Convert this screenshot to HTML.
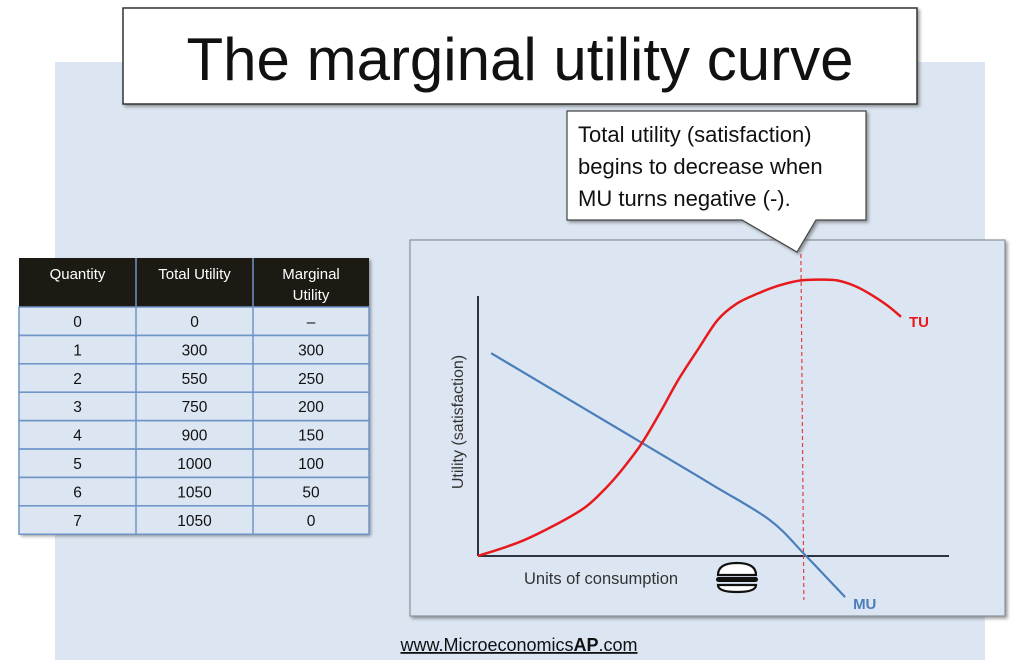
<!DOCTYPE html>
<html><head><meta charset="utf-8"><style>
html,body{margin:0;padding:0;background:#fff;}
svg{display:block;}
text{font-family:"Liberation Sans",sans-serif;}
</style></head><body>
<svg id="c" width="1024" height="667" viewBox="0 0 1024 667">
<defs>
<filter id="sh" x="-5%" y="-5%" width="112%" height="115%"><feDropShadow dx="2" dy="2" stdDeviation="1.5" flood-color="#555" flood-opacity="0.6"/></filter>
</defs>
<rect x="55" y="62" width="930" height="598" fill="#dce6f2"/>
<g>
<rect x="123" y="8" width="794" height="96" fill="#fff" stroke="#333" stroke-width="1.5" filter="url(#sh)"/>
<text x="520" y="80" text-anchor="middle" font-size="60" fill="#111">The marginal utility curve</text>
</g>
<g id="tbl"></g>
<g>
<rect x="410" y="240" width="595" height="376" fill="#dce6f2" stroke="#8a9199" stroke-width="1.2" filter="url(#sh)"/>
</g>
<g>
<path d="M567,111 H866 V220 H816 L797,252 L742,220 H567 Z" fill="#fff" stroke="#444" stroke-width="1.2" filter="url(#sh)"/>
<text x="578" y="142" font-size="22" fill="#111">Total utility (satisfaction)</text>
<text x="578" y="174" font-size="22" fill="#111">begins to decrease when</text>
<text x="578" y="206" font-size="22" fill="#111">MU turns negative (-).</text>
</g>
<g id="plot"></g>
<text x="519" y="651" text-anchor="middle" font-size="18" fill="#111" text-decoration="underline">www.Microeconomics<tspan font-weight="bold">AP</tspan>.com</text>
</svg>
<script>
const quantities=["0","1","2","3","4","5","6","7"];
const totalUtility=["0","300","550","750","900","1000","1050","1050"];
const marginalUtility=["–","300","250","200","150","100","50","0"];
const tuX=[0,0.9,1.72,2.3,2.74,3.1,3.49,3.9,4.26,4.7,5.1,5.5,5.96,6.4,6.87,7.3,7.64,8.0,8.32,8.7,9.0];
const tuY=[0,5.5,12.7,19,26.5,34,43.5,56,67.7,80,90.8,97,101,104,106,106.3,106,104,101,96.5,92];
const muX=[0.28,3.49,5.0,6.21,6.96,7.81];
const muY=[78,43.5,27.2,13.8,0.4,-15.8];
const peakX=[6.87];

const NS="http://www.w3.org/2000/svg";
function mk(tag,attrs,parent){const e=document.createElementNS(NS,tag);for(const k in attrs)e.setAttribute(k,attrs[k]);parent.appendChild(e);return e;}
// table
const tbl=document.getElementById('tbl');
const colX=[19,136,253,369], tTop=258, hh=49, rh=28.4;
const shadow=mk('rect',{x:19,y:258,width:350,height:hh+rh*8,fill:'#dce6f2',filter:'url(#sh)'},tbl);


const hdr=mk('rect',{x:19,y:258,width:350,height:hh,fill:'#1d1a14'},tbl);


const heads=[["Quantity"],["Total Utility"],["Marginal","Utility"]];
heads.forEach((h,i)=>{const cx=(colX[i]+colX[i+1])/2;h.forEach((l,j)=>{const t=mk('text',{x:cx,y:279+j*21,'text-anchor':'middle','font-size':15,fill:'#fff'},tbl);t.textContent=l;

});});
for(let r=0;r<8;r++){const y=tTop+hh+r*rh;
 const rw=mk('rect',{x:19,y:y,width:350,height:rh,fill:'none',stroke:'#6f95c8','stroke-width':1.5},tbl);
 
 
 [quantities[r],totalUtility[r],marginalUtility[r]].forEach((v,i)=>{const t=mk('text',{x:(colX[i]+colX[i+1])/2,y:y+20,'text-anchor':'middle','font-size':15.5,fill:'#111'},tbl);t.textContent=v;
 
 });}
[136,253].forEach(x=>{const l=mk('line',{x1:x,y1:258,x2:x,y2:tTop+hh+8*rh,stroke:'#6f95c8','stroke-width':1.5},tbl);

});
// plot
const g=document.getElementById('plot');
const X0=478,Y0=556,sx=v=>X0+v*47,sy=v=>Y0-v*2.6;
function curvePath(xs,ys){const p=xs.map((x,i)=>[sx(x),sy(ys[i])]);let d=`M${p[0][0]},${p[0][1]}`;
 for(let i=0;i<p.length-1;i++){const a=p[i-1]||p[i],b=p[i],c=p[i+1],e=p[i+2]||c;
 d+=` C${b[0]+(c[0]-a[0])/6},${b[1]+(c[1]-a[1])/6} ${c[0]-(e[0]-b[0])/6},${c[1]-(e[1]-b[1])/6} ${c[0]},${c[1]}`;}return d;}
const ya=mk('line',{x1:X0,y1:296,x2:X0,y2:Y0,stroke:'#2b3440','stroke-width':2},g);


const xa=mk('line',{x1:X0,y1:Y0,x2:949,y2:Y0,stroke:'#2b3440','stroke-width':2},g);


const dl=mk('line',{x1:sx(peakX[0]),y1:254,x2:sx(peakX[0])+3,y2:600,stroke:'#e04040','stroke-width':1.2,'stroke-dasharray':'4,3'},g);


const mu=mk('path',{d:curvePath(muX,muY),fill:'none',stroke:'#4a7ebb','stroke-width':2.2},g);


const tu=mk('path',{d:curvePath(tuX,tuY),fill:'none',stroke:'#e8191c','stroke-width':2.5},g);


const tl=mk('text',{x:sx(tuX[tuX.length-1])+8,y:sy(tuY[tuY.length-1])+10,'font-size':15,'font-weight':'bold',fill:'#e8191c'},g);tl.textContent='TU';


const ml=mk('text',{x:sx(muX[muX.length-1])+8,y:sy(muY[muY.length-1])+12,'font-size':15,'font-weight':'bold',fill:'#4a7ebb'},g);ml.textContent='MU';


const yt=mk('text',{x:0,y:0,transform:'translate(463,422) rotate(-90)','text-anchor':'middle','font-size':16,fill:'#333'},g);yt.textContent='Utility (satisfaction)';


const xt=mk('text',{x:524,y:584,'font-size':16.5,fill:'#333'},g);xt.textContent='Units of consumption';


const bg=mk('g',{},g);


mk('path',{d:'M718,575 Q718,563 737,563 Q756,563 756,575 Z',fill:'#fff',stroke:'#111','stroke-width':2.2},bg);
mk('rect',{x:716,y:577,width:42,height:5,rx:2.5,fill:'#111'},bg);
mk('path',{d:'M718,585 H756 Q756,592 737,592 Q718,592 718,585 Z',fill:'#fff',stroke:'#111','stroke-width':2.2},bg);
</script>
</body></html>
